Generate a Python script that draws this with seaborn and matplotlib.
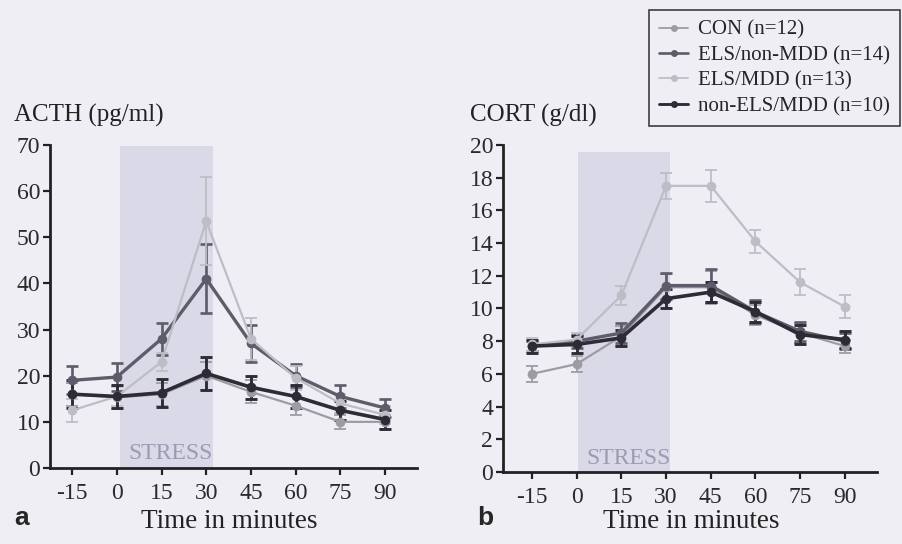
import pandas as pd
import numpy as np
import seaborn as sns
import matplotlib.pyplot as plt
import matplotlib as mpl
from matplotlib.lines import Line2D

## Data
time_points = [-15, 0, 15, 30, 45, 60, 75, 90]
groups = ["CON (n=12)", "ELS/non-MDD (n=14)", "ELS/MDD (n=13)", "non-ELS/MDD (n=10)"]
group_colors = ["#9c9ca2", "#5e5c6a", "#bdbdc6", "#2e2a36"]
group_lw = [1.6, 2.4, 1.6, 2.6]

# ACTH (pg/ml), panel a
acth_con = [16.0, 15.3, 16.0, 20.0, 16.5, 13.5, 10.0, 10.0]
acth_con_sem = [2.5, 2.5, 2.5, 3.0, 2.5, 2.0, 1.5, 1.5]
acth_els_nonmdd = [19.0, 19.7, 28.0, 41.0, 27.0, 20.0, 15.5, 13.0]
acth_els_nonmdd_sem = [3.0, 3.0, 3.5, 7.5, 4.0, 2.5, 2.5, 2.0]
acth_els_mdd = [12.5, 15.5, 23.0, 53.5, 28.0, 19.5, 14.0, 11.5]
acth_els_mdd_sem = [2.5, 2.0, 2.0, 9.5, 4.5, 2.5, 2.0, 2.0]
acth_nonels_mdd = [16.0, 15.5, 16.3, 20.5, 17.5, 15.5, 12.5, 10.5]
acth_nonels_mdd_sem = [3.0, 2.5, 3.0, 3.5, 2.5, 2.5, 2.0, 2.0]

# CORT (g/dl), panel b
cort_con = [6.0, 6.6, 8.3, 11.3, 11.3, 9.6, 8.5, 7.7]
cort_con_sem = [0.5, 0.5, 0.6, 0.8, 1.0, 0.6, 0.6, 0.4]
cort_els_nonmdd = [7.7, 8.0, 8.5, 11.4, 11.4, 9.8, 8.6, 8.0]
cort_els_nonmdd_sem = [0.3, 0.4, 0.6, 0.8, 1.0, 0.7, 0.6, 0.5]
cort_els_mdd = [7.8, 8.1, 10.8, 17.5, 17.5, 14.1, 11.6, 10.1]
cort_els_mdd_sem = [0.4, 0.4, 0.6, 0.8, 1.0, 0.7, 0.8, 0.7]
cort_nonels_mdd = [7.7, 7.8, 8.2, 10.6, 11.0, 9.8, 8.4, 8.1]
cort_nonels_mdd_sem = [0.4, 0.5, 0.5, 0.6, 0.6, 0.6, 0.6, 0.5]

acth_means = [acth_con, acth_els_nonmdd, acth_els_mdd, acth_nonels_mdd]
acth_sems = [acth_con_sem, acth_els_nonmdd_sem, acth_els_mdd_sem, acth_nonels_mdd_sem]
cort_means = [cort_con, cort_els_nonmdd, cort_els_mdd, cort_nonels_mdd]
cort_sems = [cort_con_sem, cort_els_nonmdd_sem, cort_els_mdd_sem, cort_nonels_mdd_sem]


def make_table(means, sems):
    rows = []
    for g, m, s in zip(groups, means, sems):
        for t, v, e in zip(time_points, m, s):
            rows.append({"time": t, "value": v, "err": e, "group": g})
    return pd.DataFrame(rows)


acth_df = make_table(acth_means, acth_sems)
cort_df = make_table(cort_means, cort_sems)

sns.set_style("ticks")
plt.rcParams['font.family'] = ['Liberation Serif', 'DejaVu Serif']
plt.rcParams['axes.unicode_minus'] = False
bg = "#eeeef4"

fig = plt.figure(figsize=(9.03, 5.44), dpi=100, facecolor=bg)
ax_a = fig.add_axes([0.0554, 0.1397, 0.4064, 0.5938])
ax_b = fig.add_axes([0.557, 0.1324, 0.414, 0.6011])


def draw_panel(ax, df, ymax, yticks, span, span_top, stress_y):
    ax.set_facecolor(bg)
    ax.fill_between(span, 0, span_top, color="#d9d9e8", lw=0, zorder=0)
    ax.text(sum(span) / 2 + 1.5, stress_y, "STRESS", color="#9b9bb3", fontsize=17,
            ha="center", va="bottom", zorder=1)
    # error bars (SEM) first, lines with markers on top
    for g, c, lw in zip(groups, group_colors, group_lw):
        d = df[df["group"] == g]
        ax.errorbar(d["time"], d["value"], yerr=d["err"], fmt="none", ecolor=c,
                    elinewidth=lw * 0.8, capsize=4, capthick=lw * 0.8, zorder=2)
    sns.lineplot(data=df, x="time", y="value", hue="group", hue_order=groups,
                 palette=group_colors, marker="o", markersize=7, markeredgewidth=0,
                 legend=False, ax=ax, zorder=3)
    for line, lw in zip(ax.get_lines()[-len(groups):], group_lw):
        line.set_linewidth(lw)
    ax.set_ylim(0, ymax)
    ax.set_yticks(yticks)
    ax.set_xticks(time_points)
    ax.set(xlabel=None, ylabel=None)
    sns.despine(ax=ax)
    for s in ["left", "bottom"]:
        ax.spines[s].set_linewidth(2)
        ax.spines[s].set_color("#222222")
    ax.tick_params(axis="both", labelsize=17, width=1.6, length=5, colors="#222222",
                   labelcolor="#2a2a2a")
    ax.tick_params(axis="x", pad=6)
    ax.tick_params(axis="y", pad=2)


draw_panel(ax_a, acth_df, 70, range(0, 71, 10), [1.1, 32.3], 69.8, 0.8)
ax_a.set_xlim(-22.4, 100.7)
draw_panel(ax_b, cort_df, 20, range(0, 21, 2), [0.4, 31.3], 19.6, 0.2)
ax_b.set_xlim(-24.7, 100.7)

# titles, axis labels and panel letters
fig.text(0.016, 0.788, "ACTH (pg/ml)", fontsize=18, color="#222222", va="center")
fig.text(0.52, 0.788, "CORT (g/dl)", fontsize=18, color="#222222", va="center")
fig.text(0.254, 0.042, "Time in minutes", fontsize=19.5, color="#222222", ha="center", va="center")
fig.text(0.765, 0.042, "Time in minutes", fontsize=19.5, color="#222222", ha="center", va="center")
fig.text(0.016, 0.047, "a", fontsize=19, fontweight="bold", family="Liberation Sans", va="center")
fig.text(0.528, 0.047, "b", fontsize=19, fontweight="bold", family="Liberation Sans", va="center")

# legend in the top right corner of the figure
handles = [Line2D([], [], color=c, lw=lw * 0.8, marker="o", markersize=5, markeredgewidth=0)
           for c, lw in zip(group_colors, group_lw)]
leg = fig.legend(handles, groups, loc="upper right", bbox_to_anchor=(0.997, 0.982),
                 fontsize=15, frameon=True, fancybox=False, handlelength=1.4,
                 labelspacing=0.28, borderpad=0.5, handletextpad=0.45, borderaxespad=0)
leg.get_frame().set_edgecolor("#111111")
leg.get_frame().set_linewidth(1.2)
leg.get_frame().set_facecolor(bg)

plt.savefig("out.png", dpi=100, facecolor=bg)
plt.close()
